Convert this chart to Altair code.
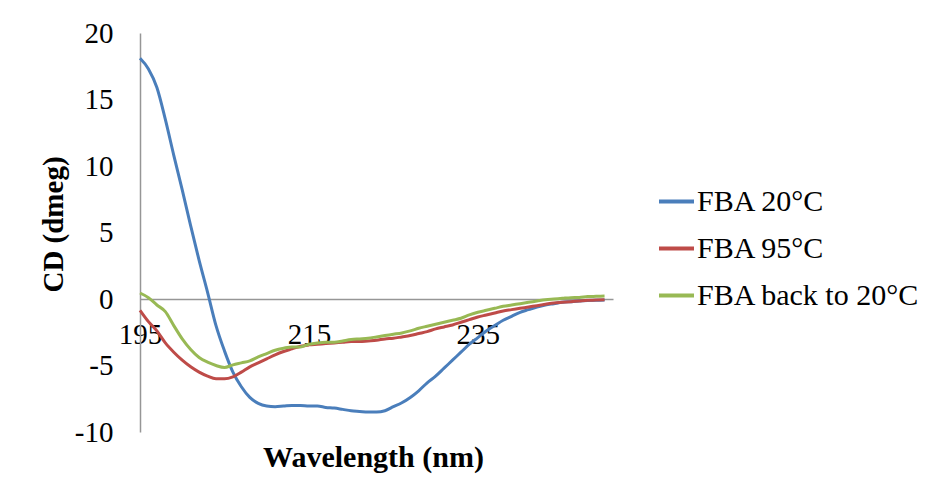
import altair as alt
import pandas as pd

wavelength = list(range(195, 251))

fba_20 = [18.1, 17.3, 15.9, 13.5, 10.8, 8.2, 5.5, 2.9, 0.5, -2.0,
          -3.9, -5.5, -6.6, -7.4, -7.85, -8.05, -8.1, -8.05, -8.0, -8.0,
          -8.05, -8.05, -8.15, -8.2, -8.3, -8.4, -8.45, -8.5, -8.5, -8.4,
          -8.1, -7.8, -7.4, -6.9, -6.3, -5.8, -5.2, -4.6, -4.0, -3.4,
          -2.9, -2.4, -2.0, -1.6, -1.3, -1.0, -0.8, -0.6, -0.45, -0.35,
          -0.25, -0.2, -0.15, -0.12, -0.1, -0.08]

fba_95 = [-0.85, -1.7, -2.4, -3.3, -4.0, -4.6, -5.1, -5.5, -5.8, -6.0,
          -6.0, -5.85, -5.5, -5.1, -4.8, -4.5, -4.2, -3.95, -3.75, -3.55,
          -3.45, -3.4, -3.35, -3.3, -3.25, -3.2, -3.2, -3.15, -3.1, -3.0,
          -2.95, -2.85, -2.75, -2.6, -2.45, -2.25, -2.1, -1.95, -1.75, -1.55,
          -1.35, -1.2, -1.05, -0.9, -0.8, -0.7, -0.6, -0.5, -0.4, -0.3,
          -0.25, -0.2, -0.15, -0.1, -0.08, -0.05]

fba_back = [0.45, 0.1, -0.45, -0.95, -2.0, -3.0, -3.8, -4.4, -4.75, -5.0,
            -5.15, -4.95, -4.8, -4.65, -4.35, -4.1, -3.85, -3.7, -3.6, -3.6,
            -3.4, -3.3, -3.25, -3.25, -3.15, -3.05, -3.0, -2.95, -2.85, -2.75,
            -2.65, -2.55, -2.4, -2.2, -2.05, -1.9, -1.75, -1.6, -1.45, -1.2,
            -1.0, -0.85, -0.7, -0.55, -0.45, -0.35, -0.25, -0.15, -0.05, 0.0,
            0.05, 0.1, 0.12, 0.18, 0.2, 0.22]

series_names = ["FBA 20°C", "FBA 95°C", "FBA back to 20°C"]
series_colors = ["#4A7EBB", "#BE4B48", "#98B954"]
x_ticks = [195, 215, 235]
y_ticks = [-10, -5, 0, 5, 10, 15, 20]

rows = []
for name, vals in zip(series_names, [fba_20, fba_95, fba_back]):
    for w, v in zip(wavelength, vals):
        rows.append({"wavelength": w, "cd": v, "series": name})
df = pd.DataFrame(rows)

FONT = "Liberation Serif"

chart = alt.Chart(df).mark_line(strokeWidth=3, interpolate="monotone").encode(
    x=alt.X("wavelength:Q",
            scale=alt.Scale(domain=[195, 251], nice=False, zero=False),
            axis=alt.Axis(values=x_ticks, title="Wavelength (nm)", orient="bottom",
                          offset=-133, grid=False, ticks=False,
                          domainColor="#969696", domainWidth=1.5,
                          labelFont=FONT, labelFontSize=29, labelColor="black",
                          labelPadding=21, labelFlush=False,
                          labelExpr="'' + datum.value",
                          titleFont=FONT, titleFontSize=30, titleFontWeight="bold",
                          titleColor="black", titleX=233, titleY=158,
                          titleBaseline="middle")),
    y=alt.Y("cd:Q",
            scale=alt.Scale(domain=[-10, 20], nice=False),
            axis=alt.Axis(values=y_ticks, title="CD (dmeg)", grid=False, ticks=False,
                          domainColor="#969696", domainWidth=1.5,
                          labelFont=FONT, labelFontSize=29, labelColor="black",
                          labelPadding=27, labelExpr="'' + datum.value",
                          titleFont=FONT, titleFontSize=29, titleFontWeight="bold",
                          titleColor="black", titleX=-87, titleY=191,
                          titleBaseline="middle")),
    color=alt.Color("series:N",
                    scale=alt.Scale(domain=series_names, range=series_colors),
                    legend=alt.Legend(title=None, orient="none", legendX=517, legendY=149,
                                      symbolType="stroke", symbolSize=1225,
                                      symbolStrokeWidth=4,
                                      labelFont=FONT, labelFontSize=30, labelColor="black",
                                      labelLimit=400,
                                      labelOffset=1, rowPadding=12)),
).properties(
    width=473, height=399,
    autosize=alt.AutoSizeParams(type="none"),
    padding={"left": 132, "top": 25, "right": 310, "bottom": 52},
).configure(font=FONT).configure_view(stroke=None)

chart.save("out.html", embed_options={"renderer": "svg", "actions": False})
